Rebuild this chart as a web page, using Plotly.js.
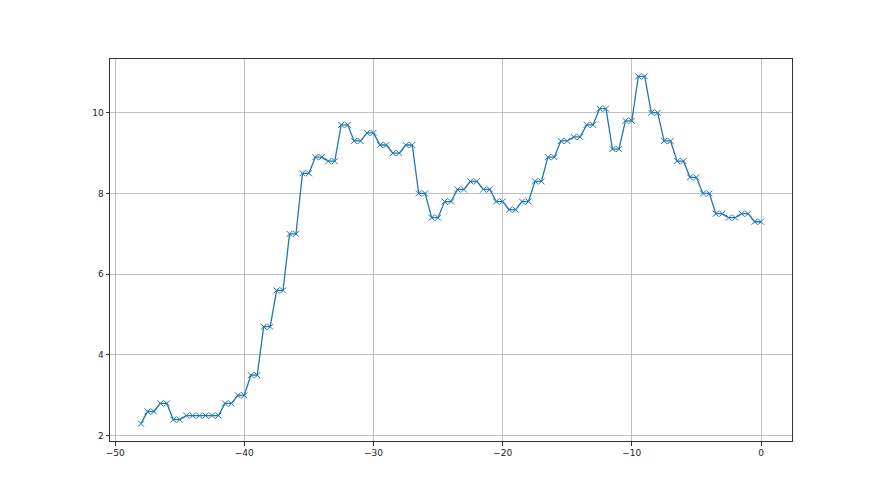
<!DOCTYPE html>
<html>
<head>
<meta charset="utf-8">
<script src="https://cdn.plot.ly/plotly-3.0.1.min.js"></script>
<style>html,body{margin:0;padding:0;background:#fff;}#chart{width:880px;height:495px;}</style>
</head>
<body>
<div id="chart"></div>
<script>
const xValues = [-48,
  -47.5,-47, -46.5,-46, -45.5,-45, -44.5,-44, -43.5,-43, -42.5,-42, -41.5,-41, -40.5,-40, -39.5,-39, -38.5,-38,
  -37.5,-37, -36.5,-36, -35.5,-35, -34.5,-34, -33.5,-33, -32.5,-32, -31.5,-31, -30.5,-30, -29.5,-29, -28.5,-28,
  -27.5,-27, -26.5,-26, -25.5,-25, -24.5,-24, -23.5,-23, -22.5,-22, -21.5,-21, -20.5,-20, -19.5,-19, -18.5,-18,
  -17.5,-17, -16.5,-16, -15.5,-15, -14.5,-14, -13.5,-13, -12.5,-12, -11.5,-11, -10.5,-10, -9.5,-9, -8.5,-8,
  -7.5,-7, -6.5,-6, -5.5,-5, -4.5,-4, -3.5,-3, -2.5,-2, -1.5,-1, -0.5,0];
const yValues = [2.3,
  2.6,2.6, 2.8,2.8, 2.4,2.4, 2.5,2.5, 2.5,2.5, 2.5,2.5, 2.8,2.8, 3.0,3.0, 3.5,3.5, 4.7,4.7,
  5.6,5.6, 7.0,7.0, 8.5,8.5, 8.9,8.9, 8.8,8.8, 9.7,9.7, 9.3,9.3, 9.5,9.5, 9.2,9.2, 9.0,9.0,
  9.2,9.2, 8.0,8.0, 7.4,7.4, 7.8,7.8, 8.1,8.1, 8.3,8.3, 8.1,8.1, 7.8,7.8, 7.6,7.6, 7.8,7.8,
  8.3,8.3, 8.9,8.9, 9.3,9.3, 9.4,9.4, 9.7,9.7, 10.1,10.1, 9.1,9.1, 9.8,9.8, 10.9,10.9, 10.0,10.0,
  9.3,9.3, 8.8,8.8, 8.4,8.4, 8.0,8.0, 7.5,7.5, 7.4,7.4, 7.5,7.5, 7.3,7.3];
const xTicks = [-50, -40, -30, -20, -10, 0];
const yTicks = [2, 4, 6, 8, 10];

const trace = {
  x: xValues, y: yValues, type: 'scatter', mode: 'lines+markers',
  line: {color: '#1f77b4', width: 1.3},
  marker: {symbol: 'x-thin-open', size: 6, color: '#1f77b4', line: {color: '#1f77b4', width: 1}}
};
const axisCommon = {
  showgrid: true, gridcolor: '#b0b0b0', gridwidth: 0.8,
  zeroline: false, showline: true, linecolor: '#333', linewidth: 1, mirror: true,
  ticks: 'outside', ticklen: 3.5, tickwidth: 1, tickcolor: '#333',
  tickfont: {family: 'DejaVu Sans', size: 9, color: '#222'}
};
const layout = {
  width: 880, height: 495,
  margin: {l: 110, r: 88, t: 59, b: 54},
  paper_bgcolor: '#fff', plot_bgcolor: '#fff',
  showlegend: false,
  xaxis: Object.assign({}, axisCommon, {range: [-50.4, 2.4], tickmode: 'array', tickvals: xTicks, ticktext: xTicks.map(v => v < 0 ? '\u2212' + Math.abs(v) : String(v))}),
  yaxis: Object.assign({}, axisCommon, {range: [1.87, 11.33], tickmode: 'array', tickvals: yTicks})
};
Plotly.newPlot('chart', [trace], layout, {displayModeBar: false, staticPlot: true});
</script>
</body>
</html>
